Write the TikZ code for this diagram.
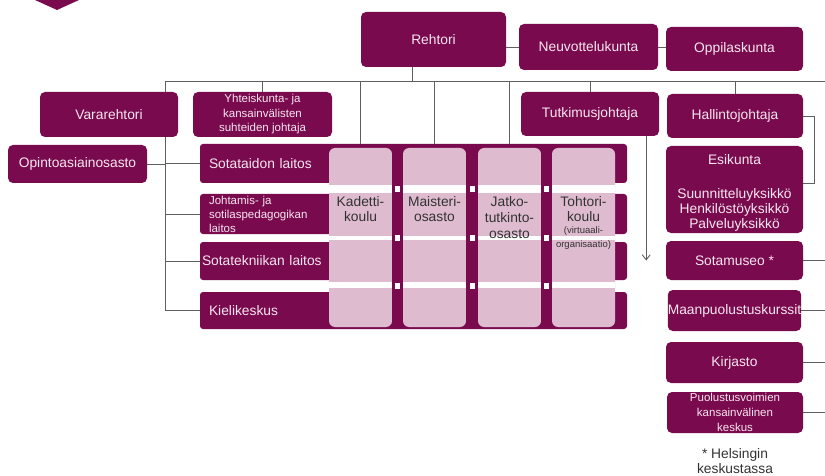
\documentclass[tikz,border=0pt]{standalone}
\usepackage{fontspec}
\setmainfont{Liberation Sans}
\usetikzlibrary{positioning,arrows.meta}

\definecolor{wine}{RGB}{122,10,78}
\definecolor{rose}{RGB}{222,187,206}
\definecolor{paletext}{RGB}{246,230,240}
\definecolor{linegray}{RGB}{95,95,95}

\tikzset{every node/.style={inner sep=0pt}}

\begin{document}
\begin{tikzpicture}[x=1pt, y=-1pt,
		orgbox/.style={rectangle, rounded corners=5pt, fill=wine, text=paletext, align=center, font=\fontsize{13.8}{15.5}\selectfont},
		smalltext/.style={font=\fontsize{11.5}{14.5}\selectfont},
		deptbar/.style={orgbox, rounded corners=3pt, minimum width=427pt, text width=409pt, inner xsep=9pt, align=left},
		schoolcol/.style={rectangle, rounded corners=6pt, fill=rose, minimum width=63pt, minimum height=179pt},
		schooltext/.style={text=black!80, align=center, font=\fontsize{13.8}{16}\selectfont},
		conn/.style={draw=linegray, line width=0.9pt}]
			\useasboundingbox (0,0) rectangle (825,476);
			
			% Corner mark
			\fill[wine] (35,0) -- (57,10) -- (79,0) -- cycle;
			
			% Top row
			\node[orgbox, minimum width=145pt, minimum height=55pt] (rehtori) at (433.5,39.5) {Rehtori};
			\node[orgbox, minimum width=139pt, minimum height=46pt] (neuvo) at (588.5,47) {Neuvottelukunta};
			\node[orgbox, minimum width=137pt, minimum height=44pt] (oppi) at (734.5,49) {Oppilaskunta};
			
			% Second row
			\node[orgbox, minimum width=138pt, minimum height=45pt] (vara) at (109,114.5) {Vararehtori};
			\node[orgbox, smalltext, minimum width=139pt, minimum height=45pt] (yhteis) at (262.5,114.5) {Yhteiskunta- ja\\kansainvälisten\\suhteiden johtaja};
			\node[orgbox, minimum width=138pt, minimum height=44pt] (tutki) at (590,114) {Tutkimusjohtaja};
			\node[orgbox, minimum width=136pt, minimum height=44pt] (hallinto) at (735,116) {Hallintojohtaja};
			\node[orgbox, minimum width=139pt, minimum height=38pt] (opinto) at (77.5,164) {Opintoasiainosasto};
			
			% Departments
			\node[deptbar, minimum height=39pt] (sotataidon) at (413.5,163.5) {Sotataidon laitos};
			\node[deptbar, font=\fontsize{11.5}{14}\selectfont, minimum height=40pt] (johtamis) at (413.5,214) {Johtamis- ja\\sotilaspedagogikan\\laitos};
			\node[deptbar, minimum height=38pt, text width=423pt, inner xsep=2pt] (sotatek) at (413.5,261) {Sotatekniikan laitos};
			\node[deptbar, minimum height=37pt] (kieli) at (413.5,310.5) {Kielikeskus};
			
			% Schools across the departments
			\node[schoolcol] (kadetti) at (360.5,237.5) {};
			\node[schoolcol] (maisteri) at (434.5,237.5) {};
			\node[schoolcol] (jatko) at (509.5,237.5) {};
			\node[schoolcol] (tohtori) at (583.5,237.5) {};
			\fill[wine] (kadetti.north east) rectangle (maisteri.south west);
			\fill[wine] (maisteri.north east) rectangle (jatko.south west);
			\fill[wine] (jatko.north east) rectangle (tohtori.south west);
			\foreach \xa in {329,403,478,552}
				\foreach \ya/\yb in {185/193,236/240,282/288}
					\fill[white] (\xa,\ya) rectangle (\xa+63,\yb);
			\foreach \xs in {397.5,472,546.5}
				\foreach \ys in {189,238,285.5}
					\fill[white] (\xs-2.5,\ys-3) rectangle (\xs+2.5,\ys+3);
			\node[schooltext, below=48pt of kadetti.north] (kadettiT) {Kadetti-\\koulu};
			\node[schooltext, below=48pt of maisteri.north] (maisteriT) {Maisteri-\\osasto};
			\node[schooltext, below=48pt of jatko.north] (jatkoT) {Jatko-\\tutkinto-\\osasto};
			\node[schooltext, below=48pt of tohtori.north] (tohtoriT) {Tohtori-\\koulu\\[-4pt]{\fontsize{9.5}{12}\selectfont(virtuaali-}\\[-2pt]{\fontsize{9.5}{12}\selectfont organisaatio)}};
			
			% Right column
			\node[orgbox, minimum width=137pt, minimum height=87pt] (esikunta) at (734.5,189.5) {};
			\node[orgbox, fill=none, below=9pt of esikunta.north] (esikuntaT) {Esikunta\\[17.5pt]Suunnitteluyksikkö\\Henkilöstöyksikkö\\Palveluyksikkö};
			\node[orgbox, minimum width=137pt, minimum height=39pt] (sotamuseo) at (734.5,260.5) {Sotamuseo *};
			\node[orgbox, minimum width=133pt, minimum height=41pt] (maanp) at (734.5,310.5) {Maanpuolustuskurssit};
			\node[orgbox, minimum width=137pt, minimum height=41pt] (kirjasto) at (734.5,362.5) {Kirjasto};
			\node[orgbox, smalltext, font=\fontsize{11.5}{15}\selectfont, minimum width=136pt, minimum height=41pt] (puolustus) at (735,412.5) {Puolustusvoimien\\kansainvälinen\\keskus};
			\node[schooltext, font=\fontsize{13.8}{15}\selectfont] (helsinki) at (735,461) {* Helsingin\\keskustassa};
			
			% Main bus under Rehtori
			\coordinate (busL) at (165,81);
			\coordinate (busR) at (825,81);
			\draw[conn] (busL) -- (busR);
			\draw[conn] (rehtori.233) -- (rehtori.233 |- busL);
			\draw[conn] (neuvo.west) -- (neuvo.west -| rehtori.east);
			\draw[conn] (neuvo.east) -- (neuvo.east -| oppi.west);
			\draw[conn] (yhteis.north) -- (yhteis.north |- busL);
			\draw[conn] (tutki.north) -- (tutki.north |- busL);
			\draw[conn] (hallinto.north) -- (hallinto.north |- busL);
			\foreach \col in {kadetti,maisteri,jatko}
				\draw[conn] (\col.north |- busL) -- (\col.north |- sotataidon.north);
			
			% Left side
			\draw[conn] (busL) -- (busL |- vara.north);
			\draw[conn] (busL |- vara.south) |- (kieli.west);
			\foreach \dep in {sotataidon,johtamis,sotatek}
				\draw[conn] (busL |- \dep.west) -- (\dep.west);
			\draw[conn] (opinto.east) -- (opinto.east -| busL);
			
			% Right side
			\draw[conn] (hallinto.east) -- ++(11,0) |- ([yshift=6pt]esikunta.east);
			\coordinate (tarrow) at ([xshift=-13pt]tutki.south east);
			\draw[conn, -{Straight Barb[length=5pt,width=8pt]}] (tarrow) -- (tarrow |- sotamuseo.east);
			\foreach \srv in {sotamuseo,maanp,kirjasto,puolustus}
				\draw[conn] (\srv.east) -- (\srv.east -| busR);
			
		\end{tikzpicture}
\end{document}
